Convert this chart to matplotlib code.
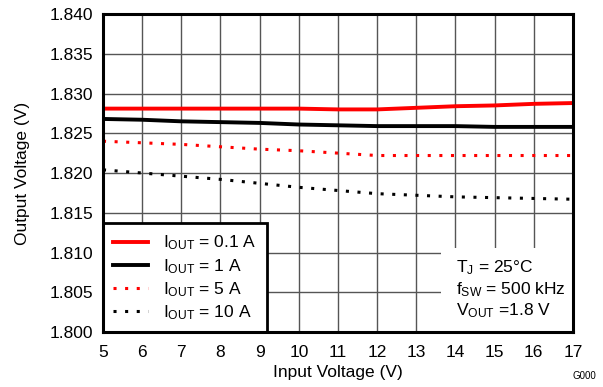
import matplotlib
matplotlib.use('Agg')
import matplotlib.pyplot as plt
from matplotlib.patches import Rectangle

plt.rcParams['font.family'] = ['Liberation Sans', 'DejaVu Sans']
plt.rcParams['mathtext.fontset'] = 'custom'
plt.rcParams['mathtext.rm'] = 'Liberation Sans'
plt.rcParams['mathtext.it'] = 'Liberation Sans'
plt.rcParams['mathtext.default'] = 'regular'

vin = [5, 6, 7, 8, 9, 10, 11, 12, 13, 14, 15, 16, 17]
vout_01a = [1.8281, 1.8281, 1.8281, 1.8281, 1.8281, 1.8281, 1.8280, 1.8280,
            1.8282, 1.8284, 1.8285, 1.8287, 1.8288]
vout_1a = [1.8268, 1.8267, 1.8265, 1.8264, 1.8263, 1.8261, 1.8260, 1.8259,
           1.8259, 1.8259, 1.8258, 1.8258, 1.8258]
vout_5a = [1.8240, 1.8238, 1.8236, 1.8233, 1.8230, 1.8228, 1.8225, 1.8222,
           1.8222, 1.8222, 1.8222, 1.8222, 1.8222]
vout_10a = [1.8204, 1.8200, 1.8196, 1.8192, 1.8187, 1.8182, 1.8178, 1.8174,
            1.8172, 1.8170, 1.8169, 1.8168, 1.8167]

labels = ['$I_{OUT}$ = 0.1 A', '$I_{OUT}$ = 1 A', '$I_{OUT}$ = 5 A', '$I_{OUT}$ = 10 A']
conditions = ['$T_J$ = 25°C', '$f_{SW}$ = 500 kHz', '$V_{OUT}$ =1.8 V']

fig = plt.figure(figsize=(6.03, 3.87), dpi=100)
ax = fig.add_axes([0.1708, 0.1421, 0.7794, 0.8217])

dots = (0, (1, 2.8))
ax.plot(vin, vout_01a, color='red', lw=2.8, label=labels[0], zorder=3)
ax.plot(vin, vout_1a, color='black', lw=2.8, label=labels[1], zorder=3)
ax.plot(vin, vout_5a, color='red', lw=2.2, linestyle=dots, label=labels[2], zorder=3)
ax.plot(vin, vout_10a, color='black', lw=2.2, linestyle=dots, label=labels[3], zorder=3)

ax.set_xlim(5, 17)
ax.set_ylim(1.800, 1.840)
ax.set_xticks(range(5, 18))
ax.set_yticks([1.800 + 0.005 * i for i in range(9)])
ax.set_yticklabels([f'{1.800 + 0.005 * i:.3f}' for i in range(9)])
ax.tick_params(length=0, labelsize=12.5)
ax.tick_params(axis='x', pad=9)
ax.tick_params(axis='y', pad=7)
ax.grid(True, color='#555555', linewidth=1.0)
ax.set_axisbelow(True)
for s in ax.spines.values():
    s.set_linewidth(2.2)
    s.set_zorder(10)
ax.set_xlabel('Input Voltage (V)', fontsize=12.5, labelpad=4)
ax.set_ylabel('Output Voltage (V)', fontsize=12.5, labelpad=14)

leg = ax.legend(loc='lower left', bbox_to_anchor=(0, 0), borderaxespad=0,
                fancybox=False, framealpha=1, edgecolor='black', fontsize=12.5,
                handlelength=2.0, handletextpad=0.85, labelspacing=0.25,
                borderpad=0.6)
leg.get_frame().set_linewidth(2.0)
leg.set_zorder(5)

ax.add_patch(Rectangle((0.719, 0), 0.281, 0.264, transform=ax.transAxes,
                       facecolor='white', edgecolor='none', zorder=4))
for i, t in enumerate(conditions):
    ax.text(0.752, 0.201 - i * 0.0675, t, transform=ax.transAxes, fontsize=12.5,
            va='center', ha='left', zorder=6)

fig.text(0.988, 0.015, 'G000', fontsize=7, ha='right', va='bottom')

plt.savefig('out.png', dpi=100)
